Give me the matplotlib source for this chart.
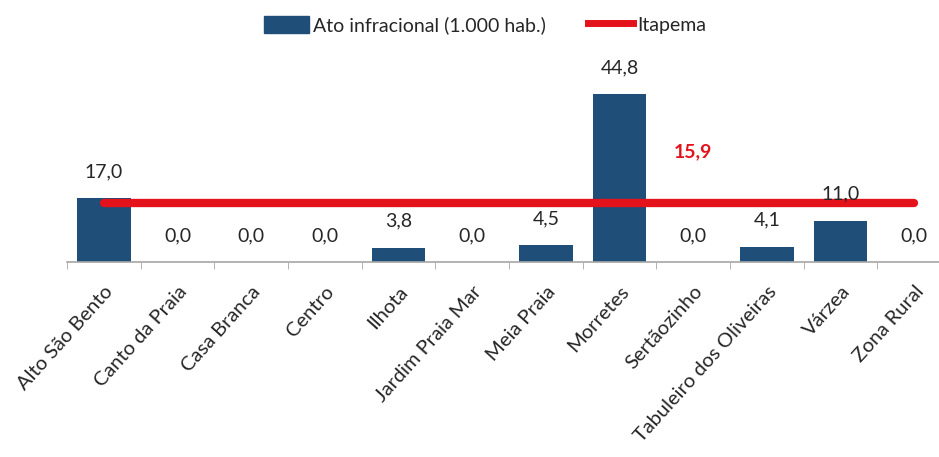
import matplotlib.pyplot as plt
from matplotlib.patches import Patch
from matplotlib.lines import Line2D
import numpy as np

bairros = ['Alto São Bento', 'Canto da Praia', 'Casa Branca', 'Centro', 'Ilhota',
           'Jardim Praia Mar', 'Meia Praia', 'Morretes', 'Sertãozinho',
           'Tabuleiro dos Oliveiras', 'Várzea', 'Zona Rural']
taxa = [17.0, 0.0, 0.0, 0.0, 3.8, 0.0, 4.5, 44.8, 0.0, 4.1, 11.0, 0.0]
itapema = 15.9

plt.rcParams['font.family'] = ['Lato', 'DejaVu Sans']

azul = '#1f4e79'
vermelho = '#e3121b'
cinza = '#a6a6a6'
texto = '#262626'

fig = plt.figure(figsize=(9.39, 4.57), dpi=100)
ax = fig.add_axes([67/939, (457-262)/457, 884/939, 202/457])

x = np.arange(len(bairros))
ax.bar(x, taxa, width=0.73, color=azul, zorder=2)
ax.plot([x[0], x[-1]], [itapema, itapema], color=vermelho, lw=6, solid_capstyle='round', zorder=3)

for xi, v in zip(x, taxa):
    ax.annotate(f'{v:.1f}'.replace('.', ','), (xi, v), xytext=(0, 13), textcoords='offset points',
                ha='center', va='bottom', fontsize=14, color=texto, zorder=4)

ax.text(8, 29.5, f'{itapema:.1f}'.replace('.', ','), color=vermelho, fontsize=14,
        fontweight='bold', ha='center', va='center')

ax.set_xlim(-0.5, len(bairros) - 0.5)
ax.set_ylim(0, 54)
ax.set_xticks(x)
ax.set_xticklabels(bairros, rotation=48, ha='right', rotation_mode='anchor', fontsize=14.5, color=texto)
ax.tick_params(axis='x', which='major', length=0, pad=15)
ax.set_xticks(np.arange(len(bairros) + 1) - 0.5, minor=True)
ax.tick_params(axis='x', which='minor', length=5, color=cinza, direction='out')
ax.set_yticks([])
for s in ['top', 'right', 'left']:
    ax.spines[s].set_visible(False)
ax.spines['bottom'].set_color(cinza)
ax.spines['bottom'].set_linewidth(1.2)

handles = [Patch(color=azul, label='Ato infracional (1.000 hab.)'),
           Line2D([], [], color=vermelho, lw=5, label='Itapema')]
fig.legend(handles=handles, loc='center', bbox_to_anchor=(485/939, 1 - 25/457), ncol=2,
           frameon=False, fontsize=14, handlelength=2.3, handleheight=1.0, handletextpad=0.2,
           columnspacing=2.2, labelcolor=texto)

fig.savefig('out.png', dpi=100)
